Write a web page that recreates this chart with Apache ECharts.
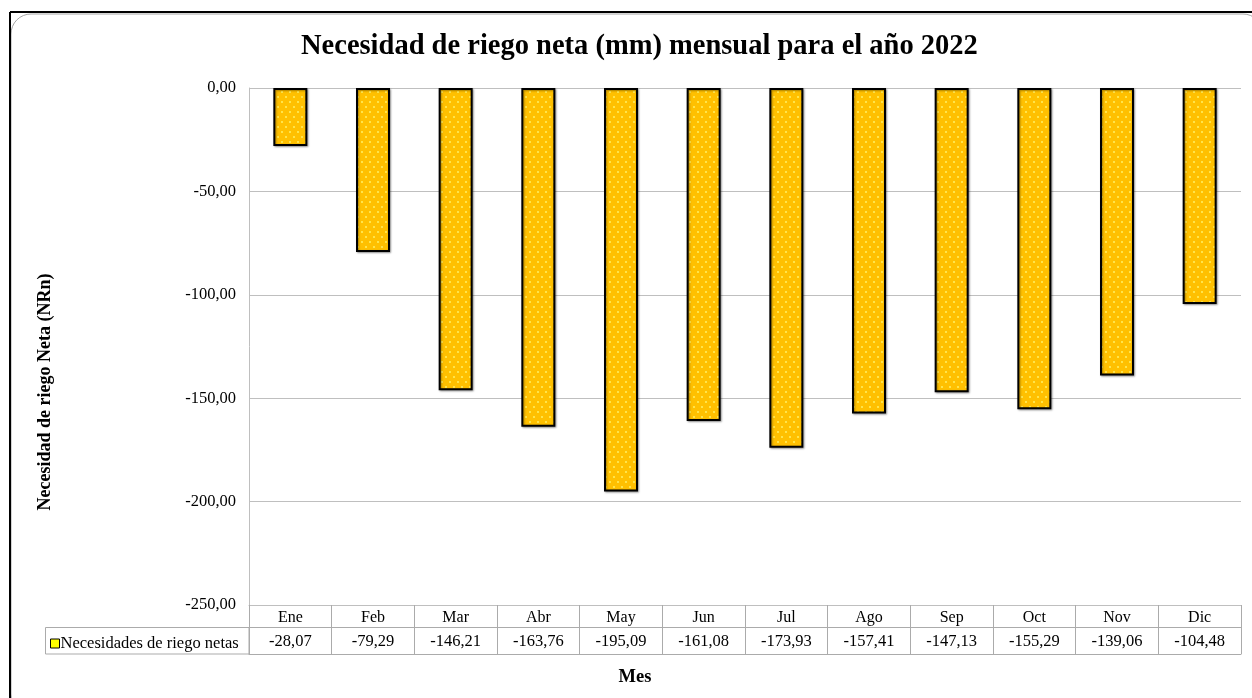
<!DOCTYPE html>
<html>
<head>
<meta charset="utf-8">
<style>
  html, body { margin: 0; padding: 0; background: #ffffff; }
  #chart { width: 1252px; height: 698px; }
</style>
<script src="https://cdn.jsdelivr.net/npm/echarts@6/dist/echarts.min.js"></script>
</head>
<body>
<div id="chart"></div>
<script>
// Monthly net irrigation requirement (mm), 2022
const months = ['Ene', 'Feb', 'Mar', 'Abr', 'May', 'Jun', 'Jul', 'Ago', 'Sep', 'Oct', 'Nov', 'Dic'];
const netIrrigation = [-28.07, -79.29, -146.21, -163.76, -195.09, -161.08, -173.93, -157.41, -147.13, -155.29, -139.06, -104.48];
const seriesName = 'Necesidades de riego netas';

const SERIF = '"Liberation Serif", "Times New Roman", serif';
const fmt = v => v.toFixed(2).replace('.', ',');

// Dotted fill: light yellow dots on amber
function dotPattern() {
  const c = document.createElement('canvas');
  c.width = 8; c.height = 10;
  const g = c.getContext('2d');
  g.fillStyle = '#FFC000';
  g.fillRect(0, 0, 8, 10);
  g.fillStyle = '#FFE44A';
  g.fillRect(1, 1, 2, 2);
  g.fillRect(5, 6, 2, 2);
  return c;
}

const chart = echarts.init(document.getElementById('chart'), null, { renderer: 'canvas' });

chart.setOption({
  backgroundColor: '#ffffff',
  animation: false,
  title: {
    text: 'Necesidad de riego neta (mm) mensual para el año 2022',
    left: 301,
    top: 32,
    padding: 0,
    textStyle: { fontFamily: SERIF, fontWeight: 'bold', fontSize: 28.5, color: '#000' }
  },
  legend: {
    left: 50,
    top: 635,
    itemWidth: 9,
    itemHeight: 9,
    itemGap: 0,
    padding: 0,
    icon: 'rect',
    data: [{ name: seriesName, itemStyle: { color: '#FFFF00', borderColor: '#000', borderWidth: 1 } }],
    textStyle: { fontFamily: SERIF, fontSize: 16.5, color: '#000', padding: [0, 0, 0, -4] }
  },
  grid: { left: 249, top: 88, right: 11, bottom: 93, containLabel: false },
  xAxis: [
    {
      type: 'category',
      data: months,
      position: 'bottom',
      boundaryGap: true,
      axisLine: { show: true, onZero: false, lineStyle: { color: '#bfbfbf', width: 1 } },
      axisTick: { show: true, interval: 0, length: 49, lineStyle: { color: '#ababab' } },
      axisLabel: { interval: 0, margin: 5, fontFamily: SERIF, fontSize: 16, color: '#000' },
      splitLine: { show: false }
    },
    {
      type: 'category',
      data: netIrrigation.map(fmt),
      position: 'bottom',
      offset: 22,
      boundaryGap: true,
      axisLine: { show: true, onZero: false, lineStyle: { color: '#ababab', width: 1 } },
      axisTick: { show: false },
      axisLabel: { interval: 0, margin: 6, fontFamily: SERIF, fontSize: 16.5, color: '#000' }
    },
    {
      type: 'category',
      data: months,
      position: 'bottom',
      offset: 49,
      axisLine: { show: true, onZero: false, lineStyle: { color: '#ababab', width: 1 } },
      axisTick: { show: false },
      axisLabel: { show: false }
    }
  ],
  yAxis: {
    type: 'value',
    min: -250,
    max: 0,
    interval: 50,
    axisLine: { show: true, lineStyle: { color: '#bfbfbf', width: 1 } },
    axisTick: { show: false },
    axisLabel: { margin: 13, fontFamily: SERIF, fontSize: 16.5, color: '#000', formatter: v => fmt(v) },
    splitLine: { show: true, lineStyle: { color: '#bfbfbf', width: 1 } }
  },
  series: [
    {
      name: seriesName,
      type: 'bar',
      xAxisIndex: 0,
      data: netIrrigation,
      barWidth: 34,
      itemStyle: {
        color: { image: dotPattern(), repeat: 'repeat' },
        borderColor: '#000',
        borderWidth: 2,
        shadowColor: 'rgba(0,0,0,0.35)',
        shadowBlur: 2,
        shadowOffsetX: 1,
        shadowOffsetY: 1
      }
    }
  ],
  graphic: [
    // outer frame
    { type: 'rect', silent: true, z: -1, shape: { x: 11, y: 14, width: 1252, height: 700, r: 20 },
      style: { fill: 'none', stroke: '#a6a6a6', lineWidth: 1 } },
    { type: 'line', silent: true, shape: { x1: 10, y1: 12, x2: 1252, y2: 12 }, style: { stroke: '#000', lineWidth: 2 } },
    { type: 'line', silent: true, shape: { x1: 10, y1: 12, x2: 10, y2: 698 }, style: { stroke: '#000', lineWidth: 2 } },
    // legend key cell of the data table
    { type: 'rect', silent: true, shape: { x: 45.5, y: 627.5, width: 203.5, height: 26.5 },
      style: { fill: 'none', stroke: '#ababab', lineWidth: 1 } },
    // axis titles
    { type: 'text', silent: true, x: 45, y: 392, rotation: Math.PI / 2,
      style: { text: 'Necesidad de riego Neta (NRn)', fontFamily: SERIF, fontWeight: 'bold', fontSize: 18,
               fill: '#000', align: 'center', verticalAlign: 'middle' } },
    { type: 'text', silent: true, x: 635, y: 677,
      style: { text: 'Mes', fontFamily: SERIF, fontWeight: 'bold', fontSize: 18.5,
               fill: '#000', align: 'center', verticalAlign: 'middle' } }
  ]
});
</script>
</body>
</html>
